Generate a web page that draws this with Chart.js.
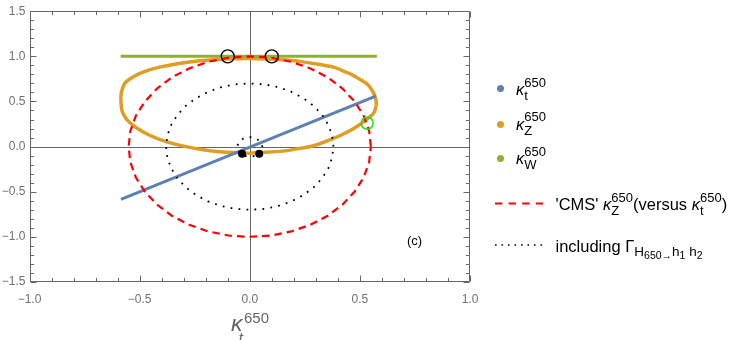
<!DOCTYPE html>
<html>
<head>
<meta charset="utf-8">
<script src="https://cdn.jsdelivr.net/npm/chart.js@4.4.1/dist/chart.umd.min.js"></script>
<style>
  body { margin: 0; background: #fff; overflow: hidden; }
  #wrap { position: relative; width: 738px; height: 340px; overflow: hidden;
          font-family: "Liberation Sans", Arial, sans-serif; color: #000; }
  .a { position: absolute; line-height: 1; white-space: nowrap; }
  .lg { position: absolute; white-space: nowrap; font-size: 16.5px; line-height: 30px; }
  .st { display: inline-flex; flex-direction: column; align-items: flex-start;
        font-size: 13px; line-height: 13.5px; vertical-align: 8.5px; }
  .sb { font-size: 13.5px; vertical-align: -3.5px; }
  .sb2 { font-size: 10.5px; vertical-align: -3px; }
  .dot { position: absolute; width: 7px; height: 7px; border-radius: 50%; }
</style>
</head>
<body>
<div id="wrap">
  <canvas id="chart" width="738" height="340"></canvas>

  <!-- x axis title -->
  <span class="a" style="left:231px;top:312px;font-size:23px;font-style:italic;color:#666">κ</span>
  <span class="a" style="left:244px;top:310px;font-size:15px;color:#666">650</span>
  <span class="a" style="left:238.5px;top:331px;font-size:16px;font-style:italic;color:#666">t</span>

  <span class="a" style="left:407px;top:234px;font-size:13px">(c)</span>

  <!-- legend -->
  <div class="dot" style="left:496.5px;top:85px;background:#5e81b5"></div>
  <div class="dot" style="left:496.5px;top:120.5px;background:#e19c24"></div>
  <div class="dot" style="left:496.5px;top:155px;background:#8fb032"></div>
  <div class="lg" style="left:516px;top:74px"><i>κ</i><span class="st"><span>650</span><span>t</span></span></div>
  <div class="lg" style="left:516px;top:108.5px"><i>κ</i><span class="st"><span>650</span><span>Z</span></span></div>
  <div class="lg" style="left:516px;top:143px"><i>κ</i><span class="st"><span>650</span><span>W</span></span></div>

  <svg style="position:absolute;left:490px;top:195px" width="60" height="60">
    <line x1="5" y1="8.5" x2="53" y2="8.5" stroke="#ff0000" stroke-width="2.2" stroke-dasharray="7.3 6.3"/>
    <line x1="5" y1="50" x2="53" y2="50" stroke="#000" stroke-width="1.6" stroke-dasharray="1.6 4.9"/>
  </svg>
  <div class="lg" style="left:555.5px;top:189px">'CMS' <i>κ</i><span class="st"><span>650</span><span>Z</span></span>(versus <i>κ</i><span class="st"><span>650</span><span>t</span></span>)</div>
  <div class="lg" style="left:555.5px;top:231px">including Γ<span class="sb">H<span class="sb2">650</span><span class="sb2">→</span>h<span class="sb2">1</span> h<span class="sb2">2</span></span></div>
</div>

<script>
// axis ticks
const xTicks = [-1, -0.5, 0, 0.5, 1];
const yTicks = [-1.5, -1, -0.5, 0, 0.5, 1, 1.5];

// kappa_t^650 (blue line)
const ktX = [-0.585, 0.572];
const ktY = [-0.585, 0.558];

// kappa_W^650 (green line)
const kwX = [-0.586, 0.577];
const kwY = [1.0, 1.0];

// kappa_Z^650 (orange loop), read round the curve
const kzX = [0.575, 0.572, 0.56, 0.53, 0.455, 0.38, 0.227, 0.1, 0, -0.15, -0.3, -0.41, -0.485, -0.53,
             -0.568, -0.583, -0.585, -0.578, -0.555, -0.51, -0.45, -0.38, -0.29, -0.15, 0, 0.15, 0.29,
             0.38, 0.45, 0.5, 0.54, 0.565, 0.575];
const kzY = [0.46, 0.53, 0.605, 0.70, 0.807, 0.88, 0.944, 0.967, 0.975, 0.965, 0.93, 0.88, 0.825, 0.77,
             0.70, 0.6, 0.5, 0.38, 0.29, 0.20, 0.12, 0.055, 0.0, -0.055, -0.073, -0.05, 0.01,
             0.09, 0.17, 0.245, 0.32, 0.38, 0.46];

// 'CMS' kappa_Z^650 versus kappa_t^650 (red dashed)
const cmsX = [0.550, 0.542, 0.517, 0.476, 0.421, 0.354, 0.275, 0.188, 0.096, 0.000,
              -0.096, -0.188, -0.275, -0.354, -0.421, -0.476, -0.517, -0.542, -0.550,
              -0.542, -0.517, -0.476, -0.421, -0.354, -0.275, -0.188, -0.096, -0.010,
              0.096, 0.188, 0.275, 0.354, 0.421, 0.476, 0.517, 0.542, 0.550];
const cmsY = [0, 0.174, 0.342, 0.5, 0.643, 0.766, 0.866, 0.94, 0.985, 1,
              0.985, 0.94, 0.866, 0.766, 0.643, 0.5, 0.342, 0.174, 0,
              -0.174, -0.342, -0.5, -0.643, -0.766, -0.866, -0.94, -0.985, -1,
              -0.985, -0.94, -0.866, -0.766, -0.643, -0.5, -0.342, -0.174, 0];

// including Gamma(H650 -> h1 h2) (black dotted, outer)
const gamX = [0.380, 0.374, 0.357, 0.329, 0.291, 0.244, 0.190, 0.130, 0.066, 0,
              -0.066, -0.130, -0.190, -0.244, -0.291, -0.329, -0.357, -0.374, -0.380,
              -0.374, -0.357, -0.329, -0.291, -0.244, -0.190, -0.130, -0.066, 0,
              0.066, 0.130, 0.190, 0.244, 0.291, 0.329, 0.357, 0.374, 0.380];
const gamY = [0, 0.122, 0.239, 0.350, 0.450, 0.536, 0.606, 0.658, 0.690, 0.700,
              0.690, 0.658, 0.606, 0.536, 0.450, 0.350, 0.239, 0.122, 0,
              -0.122, -0.239, -0.350, -0.450, -0.536, -0.606, -0.658, -0.690, -0.700,
              -0.690, -0.658, -0.606, -0.536, -0.450, -0.350, -0.239, -0.122, 0];

// small dotted loop round the origin
const smallX = [0.058, 0.050, 0.029, 0, -0.029, -0.050, -0.058, -0.050, -0.029, 0, 0.029, 0.050, 0.058];
const smallY = [-0.005, 0.05, 0.09, 0.105, 0.09, 0.05, -0.005, -0.06, -0.10, -0.115, -0.10, -0.06, -0.005];

// marked points
const openX = [-0.1, 0.1];
const openY = [1.0, 1.0];
const fullX = [-0.035, 0.043];
const fullY = [-0.078, -0.078];
const greenX = [0.533];
const greenY = [0.26];

const pts = (xs, ys) => xs.map((x, i) => ({ x: x, y: ys[i] }));
const fmt = v => (v < 0 ? '\u2212' : '') + Math.abs(v).toFixed(1);

// frame with inside ticks plus the axes through the origin
const frameTicks = {
    id: 'frameTicks',
    beforeDatasetsDraw(chart) {
        const { ctx, chartArea: a } = chart;
        const sx = chart.scales.x, sy = chart.scales.y;
        const px = v => Math.round(sx.getPixelForValue(v)) + 0.5;
        const py = v => Math.round(sy.getPixelForValue(v)) + 0.5;
        const L = Math.round(a.left) + 0.5, R = Math.round(a.right) - 0.5;
        const T = Math.round(a.top) + 0.5, B = Math.round(a.bottom) - 0.5;
        ctx.save();
        ctx.strokeStyle = '#666';
        ctx.lineWidth = 1;
        ctx.beginPath();
        ctx.moveTo(px(0), T); ctx.lineTo(px(0), B);
        ctx.moveTo(L, py(0)); ctx.lineTo(R, py(0));
        ctx.rect(L, T, R - L, B - T);
        for (let i = -10; i <= 10; i++) {
            let len = i % 5 === 0 ? 6 : 3.5;
            let x = px(i / 10);
            ctx.moveTo(x, B); ctx.lineTo(x, B - len);
            ctx.moveTo(x, T); ctx.lineTo(x, T + len);
        }
        for (let i = -15; i <= 15; i++) {
            let len = i % 5 === 0 ? 6 : 3.5;
            let y = py(i / 10);
            ctx.moveTo(L, y); ctx.lineTo(L + len, y);
            ctx.moveTo(R, y); ctx.lineTo(R - len, y);
        }
        ctx.stroke();
        ctx.restore();
    }
};

const lineSet = (data, color, width, extra) => Object.assign({
    data: data, showLine: true, borderColor: color, borderWidth: width,
    pointRadius: 0, fill: false
}, extra);

Chart.defaults.font.family = '"Liberation Sans", Arial, sans-serif';
Chart.defaults.font.size = 12;
Chart.defaults.color = '#707070';

new Chart(document.getElementById('chart'), {
    type: 'scatter',
    data: {
        datasets: [
            { data: pts(openX, openY), pointRadius: 6.5, pointBorderWidth: 1.3,
              pointBorderColor: '#000', pointBackgroundColor: 'rgba(0,0,0,0)', order: 0 },
            { data: pts(fullX, fullY), pointRadius: 4, pointBorderWidth: 0,
              pointBackgroundColor: '#000', order: 0 },
            { data: pts(greenX, greenY), pointRadius: 6, pointBorderWidth: 1.5,
              pointBorderColor: '#1fe01f', pointBackgroundColor: 'rgba(0,0,0,0)', order: 0 },
            lineSet(pts(gamX, gamY), '#000', 1.8, { borderDash: [1.8, 6.2], order: 1 }),
            lineSet(pts(smallX, smallY), '#000', 1.8, { borderDash: [1.8, 6.2], order: 1 }),
            lineSet(pts(cmsX, cmsY), '#ff0000', 2.2, { borderDash: [7.5, 5], order: 2 }),
            lineSet(pts(kwX, kwY), '#8fb032', 3, { order: 3 }),
            lineSet(pts(ktX, ktY), '#5e81b5', 3, { order: 4 }),
            lineSet(pts(kzX, kzY), '#e19c24', 3.5, { tension: 0.15, order: 5 })
        ]
    },
    options: {
        responsive: false,
        animation: false,
        layout: { padding: { left: 0, top: 9.5, right: 268, bottom: 0 } },
        plugins: { legend: { display: false }, tooltip: { enabled: false } },
        scales: {
            x: {
                type: 'linear', min: -1, max: 1,
                grid: { display: false, drawTicks: false }, border: { display: false },
                afterBuildTicks: s => { s.ticks = xTicks.map(v => ({ value: v })); },
                afterFit: s => { s.height = 58; },
                ticks: { padding: 10, autoSkip: false, maxRotation: 0, callback: fmt }
            },
            y: {
                type: 'linear', min: -1.5, max: 1.5,
                grid: { display: false, drawTicks: false }, border: { display: false },
                afterBuildTicks: s => { s.ticks = yTicks.map(v => ({ value: v })); },
                afterFit: s => { s.width = 29.5; },
                ticks: { padding: 4, autoSkip: false, callback: fmt }
            }
        }
    },
    plugins: [frameTicks]
});
</script>
</body>
</html>
